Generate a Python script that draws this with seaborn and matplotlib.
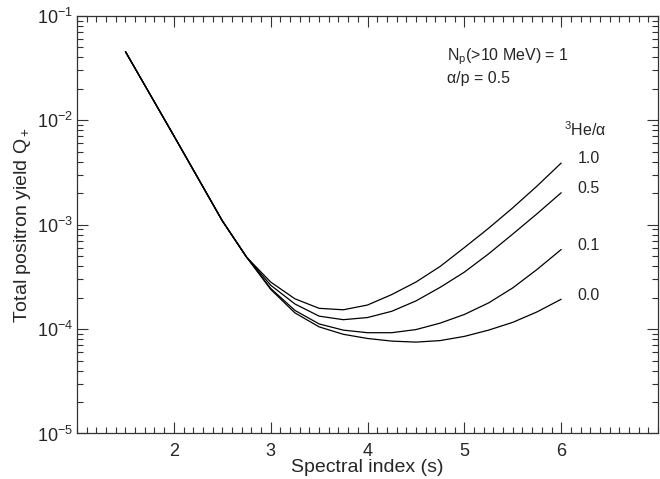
import numpy as np
import pandas as pd
import seaborn as sns
import matplotlib
matplotlib.use("Agg")
import matplotlib.pyplot as plt
from matplotlib.ticker import LogLocator, MultipleLocator

# shared steep part (all curves coincide)
s_shared = [1.5, 2.0, 2.5, 2.75]
q_shared = [4.54e-2, 7.1e-3, 1.09e-3, 4.9e-4]

# spectral index grid where the curves separate
s_split = [3.0, 3.25, 3.5, 3.75, 4.0, 4.25, 4.5, 4.75, 5.0, 5.25, 5.5, 5.75, 6.0]

# 3He/alpha ratios and the yields
ratios = ["1.0", "0.5", "0.1", "0.0"]
q_10 = [2.82e-4, 1.95e-4, 1.58e-4, 1.53e-4, 1.70e-4, 2.14e-4, 2.82e-4, 3.98e-4,
        6.03e-4, 9.23e-4, 1.45e-3, 2.34e-3, 3.89e-3]
q_05 = [2.63e-4, 1.74e-4, 1.33e-4, 1.23e-4, 1.29e-4, 1.48e-4, 1.86e-4, 2.51e-4,
        3.51e-4, 5.25e-4, 8.13e-4, 1.27e-3, 2.02e-3]
q_01 = [2.45e-4, 1.51e-4, 1.12e-4, 9.77e-5, 9.23e-5, 9.23e-5, 9.89e-5, 1.14e-4,
        1.38e-4, 1.78e-4, 2.48e-4, 3.72e-4, 5.78e-4]
q_00 = [2.40e-4, 1.43e-4, 1.05e-4, 8.91e-5, 8.13e-5, 7.67e-5, 7.50e-5, 7.76e-5,
        8.51e-5, 9.77e-5, 1.16e-4, 1.46e-4, 1.93e-4]
q_split = [q_10, q_05, q_01, q_00]

rows = []
for r, q in zip(ratios, q_split):
    for s, v in zip(s_shared + s_split, q_shared + q):
        rows.append({"s": s, "Q": v, "ratio": r})
df = pd.DataFrame(rows)

sns.set_style("ticks")
plt.rcParams["font.family"] = ["Liberation Sans", "DejaVu Sans"]
plt.rcParams["mathtext.fontset"] = "custom"
plt.rcParams["mathtext.rm"] = "Liberation Sans"
plt.rcParams["mathtext.it"] = "Liberation Sans:italic"
plt.rcParams["mathtext.default"] = "regular"

fig, ax = plt.subplots(figsize=(6.6, 4.79), dpi=100)
fig.subplots_adjust(left=0.1167, right=0.997, top=0.967, bottom=0.095)

sns.lineplot(data=df, x="s", y="Q", hue="ratio", units="ratio", estimator=None,
             palette=["black"] * 4, linewidth=0.9, legend=False, ax=ax)

ax.set_yscale("log")
ax.set_xlim(1, 7)
ax.set_ylim(1e-5, 1e-1)
ax.set_xticks([2, 3, 4, 5, 6])
ax.xaxis.set_minor_locator(MultipleLocator(0.1))
ax.yaxis.set_major_locator(LogLocator(base=10, numticks=10))
ax.yaxis.set_minor_locator(LogLocator(base=10, subs=np.arange(2, 10), numticks=20))

ax.tick_params(which="both", direction="in", top=True, right=True,
               labelsize=13, width=0.8, color="#333333")
ax.tick_params(which="major", length=8)
ax.tick_params(which="minor", length=4)
ax.tick_params(axis="x", which="major", pad=7)
ax.tick_params(axis="y", which="major", pad=3)
for sp in ax.spines.values():
    sp.set_linewidth(0.9)
    sp.set_color("#333333")

ax.set_xlabel("Spectral index (s)", fontsize=14, labelpad=-1)
ax.set_ylabel("Total positron yield Q$_+$", fontsize=14, labelpad=3)

ax.text(4.82, 0.0407, "N$_\\mathrm{p}$(>10 MeV) = 1", fontsize=11.5, va="center", ha="left")
ax.text(4.82, 0.0251, "α/p = 0.5", fontsize=11.5, va="center", ha="left")
ax.text(6.03, 8.2e-3, "$^3$He/α", fontsize=11.5, va="center", ha="left")

for r, q in zip(ratios, q_split):
    ax.annotate(r, xy=(s_split[-1], q[-1]), xytext=(12, 3), textcoords="offset points",
                fontsize=11.5, va="center", ha="left")

plt.savefig("out.png", dpi=100)
